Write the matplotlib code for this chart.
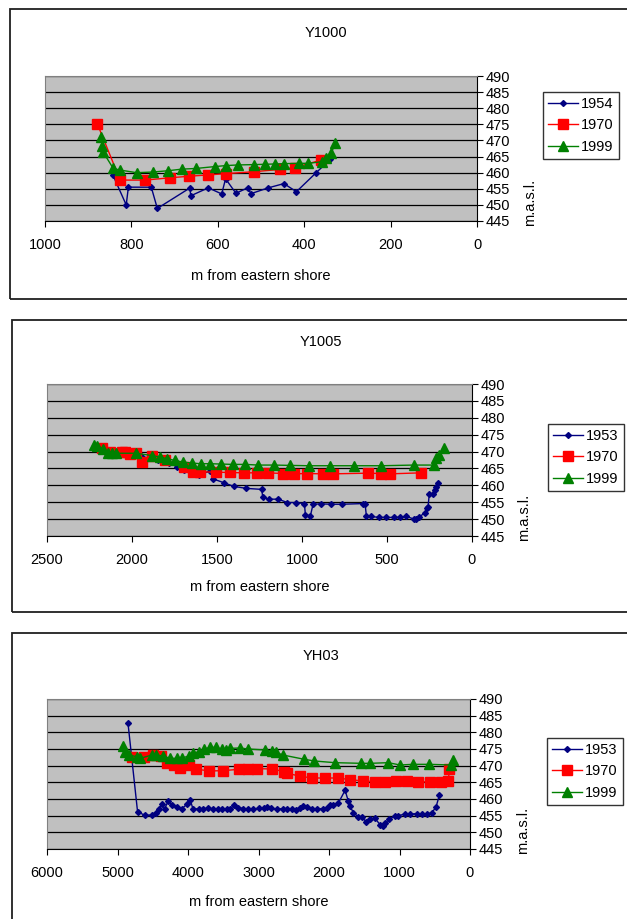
import matplotlib
matplotlib.use("Agg")
import matplotlib.pyplot as plt
from matplotlib.patches import Rectangle

plt.rcParams['font.family'] = ['Liberation Sans', 'DejaVu Sans']
FS = 10.5

# ---- Y1000 ----
y1000_1954_x = [843, 812, 807, 754, 740, 664, 663, 622, 591, 582, 558, 531, 523, 483, 447, 418, 373, 340]
y1000_1954_y = [459.3, 450.0, 455.5, 455.5, 448.9, 455.3, 452.8, 455.3, 453.4, 458.1, 453.6, 455.3, 453.5,
                455.3, 456.6, 454.1, 459.9, 464.1]
y1000_1970_x = [879, 826, 768, 711, 666, 622, 581, 516, 457, 421, 361]
y1000_1970_y = [475.2, 457.7, 457.7, 458.4, 458.9, 459.3, 459.7, 460.3, 461.0, 461.6, 463.9]
y1000_1999_x = [871, 867, 865, 842, 826, 788, 750, 715, 683, 651, 606, 581, 553, 516, 491, 468, 446,
                412, 391, 358, 349, 337, 329]
y1000_1999_y = [471.0, 468.3, 466.3, 461.3, 460.8, 460.0, 460.2, 460.6, 461.1, 461.3, 461.9, 462.2, 462.4,
                462.5, 462.6, 462.7, 462.8, 462.9, 462.9, 463.4, 464.4, 466.0, 469.1]

# ---- Y1005 ----
y1005_1953_x = [2200, 2150, 2050, 1950, 1850, 1780, 1735, 1696, 1647, 1608, 1539, 1523, 1461, 1402, 1329,
                1237, 1231, 1194, 1139, 1086, 1037, 986, 980, 951, 935, 888, 831, 763, 641, 629, 621,
                594, 549, 504, 461, 425, 386, 341, 327, 310, 278, 264, 259, 251, 231, 219, 210, 198]
y1005_1953_y = [471.5, 470.3, 469.6, 468.6, 467.6, 466.6, 465.5, 464.5, 463.7, 463.0, 464.3, 461.9, 460.8,
                459.7, 459.1, 458.8, 456.5, 455.9, 455.9, 454.9, 454.9, 454.6, 451.3, 450.9, 454.4,
                454.5, 454.4, 454.4, 454.6, 454.4, 450.9, 450.8, 450.5, 450.5, 450.5, 450.5, 450.8,
                450.0, 450.0, 450.7, 451.8, 453.3, 453.5, 457.5, 457.5, 458.6, 459.6, 460.8]
y1005_1970_x = [2176, 2127, 2059, 2043, 2010, 1974, 1939, 1882, 1808, 1696, 1641, 1598, 1506, 1423, 1343,
                1266, 1200, 1114, 1049, 972, 876, 819, 612, 537, 482, 298]
y1005_1970_y = [471.2, 469.8, 470.0, 469.8, 469.4, 469.5, 466.8, 468.6, 467.4, 465.3, 464.0, 464.0, 463.9,
                463.8, 463.7, 463.7, 463.7, 463.5, 463.4, 463.5, 463.4, 463.4, 463.6, 463.5, 463.4, 463.7]
y1005_1999_x = [2225, 2206, 2171, 2143, 2118, 2092, 1978, 1882, 1837, 1796, 1749, 1702, 1649, 1596, 1539,
                1476, 1408, 1335, 1257, 1167, 1068, 959, 835, 696, 533, 343, 221, 210, 192, 167]
y1005_1999_y = [472.0, 471.5, 470.8, 469.7, 469.5, 469.5, 469.5, 468.8, 468.4, 467.9, 467.4, 466.9, 466.6,
                466.4, 466.4, 466.3, 466.2, 466.2, 466.0, 466.0, 465.9, 465.8, 465.8, 465.8, 465.8,
                466.0, 466.0, 468.0, 469.0, 471.2]

# ---- YH03 ----
yh03_1953_x = [4852, 4715, 4606, 4517, 4451, 4408, 4370, 4332, 4280, 4229, 4158, 4087, 4016, 3969, 3931,
               3851, 3789, 3723, 3647, 3581, 3520, 3449, 3402, 3345, 3284, 3213, 3142, 3071, 3000, 2929,
               2873, 2825, 2740, 2655, 2599, 2528, 2471, 2410, 2372, 2315, 2244, 2174, 2089, 2032, 1985,
               1937, 1867, 1772, 1725, 1701, 1654, 1583, 1536, 1474, 1418, 1347, 1276, 1238, 1200, 1144,
               1063, 1016, 922, 851, 756, 685, 615, 544, 482, 435]
yh03_1953_y = [482.9, 456.1, 455.1, 455.2, 455.8, 456.9, 458.4, 457.1, 459.4, 458.1, 457.7, 457.1, 458.4,
               459.8, 457.1, 457.0, 456.9, 457.3, 457.0, 457.0, 457.0, 457.1, 457.1, 458.1, 457.4, 457.1,
               457.1, 457.0, 457.2, 457.2, 457.6, 457.2, 457.0, 457.1, 457.1, 457.0, 456.8, 457.3, 457.8,
               457.6, 457.1, 457.1, 457.1, 457.2, 458.1, 458.1, 458.8, 462.6, 459.3, 457.8, 455.9, 454.6,
               454.6, 453.2, 454.0, 454.2, 452.3, 451.9, 452.9, 453.9, 455.0, 455.0, 455.5, 455.5, 455.6,
               455.5, 455.5, 455.8, 457.6, 461.1]
yh03_1970_x = [4795, 4630, 4498, 4384, 4299, 4205, 4120, 3992, 3888, 3700, 3510, 3279, 3142, 3019, 2802,
               2637, 2599, 2410, 2235, 2056, 1871, 1701, 1512, 1342, 1205, 1054, 898, 742, 567, 416, 308, 293]
yh03_1970_y = [472.7, 472.7, 473.2, 473.0, 470.7, 470.2, 469.4, 470.2, 469.0, 468.4, 468.5, 468.9, 468.9,
               469.1, 469.0, 468.2, 467.8, 466.8, 466.3, 466.3, 466.3, 465.8, 465.4, 465.2, 465.1, 465.4,
               465.4, 465.1, 465.2, 465.1, 465.3, 468.9]
yh03_1999_x = [4928, 4899, 4843, 4725, 4677, 4512, 4451, 4356, 4252, 4158, 4087, 3983, 3931, 3846, 3770,
               3685, 3605, 3520, 3463, 3402, 3260, 3147, 2906, 2811, 2754, 2655, 2348, 2206, 1918, 1540,
               1418, 1158, 993, 813, 577, 270, 237]
yh03_1999_y = [475.9, 474.2, 473.2, 472.7, 472.2, 473.2, 473.2, 472.9, 472.2, 472.2, 472.2, 473.0, 473.7,
               474.2, 474.9, 475.5, 475.5, 474.9, 474.7, 475.2, 475.3, 475.0, 474.7, 474.4, 474.0, 473.2,
               471.9, 471.4, 470.9, 470.7, 470.7, 470.9, 470.2, 470.4, 470.4, 470.2, 471.7]

W, H = 627, 919
fig = plt.figure(figsize=(W / 100, H / 100), dpi=100)


def fx(px):
    return px / W


def fy(py):
    return 1 - py / H


# outer frames (chart objects)
for (x0, y0, x1, y1) in [(9.5, 9.5, 640, 298.5), (11.5, 319.5, 640, 611.5), (11.5, 633.5, 640, 940)]:
    fig.patches.append(Rectangle((fx(x0), fy(y1)), fx(x1 - x0), (y1 - y0) / H,
                                 transform=fig.transFigure, fill=False, ec='#202020', lw=1.3))

panels = [
    dict(title='Y1000', box=(45, 76, 477, 221), xmax=1000, xstep=200, title_xy=(326, 33),
         xlab_y=276, leg=(543, 92), yl_x=530,
         series=[('1954', y1000_1954_x, y1000_1954_y), ('1970', y1000_1970_x, y1000_1970_y),
                 ('1999', y1000_1999_x, y1000_1999_y)]),
    dict(title='Y1005', box=(47, 384, 472, 536), xmax=2500, xstep=500, title_xy=(321, 342),
         xlab_y=587, leg=(548, 424), yl_x=524,
         series=[('1953', y1005_1953_x, y1005_1953_y), ('1970', y1005_1970_x, y1005_1970_y),
                 ('1999', y1005_1999_x, y1005_1999_y)]),
    dict(title='YH03', box=(47, 699, 470, 849), xmax=6000, xstep=1000, title_xy=(321, 656),
         xlab_y=902, leg=(547, 738), yl_x=523,
         series=[('1953', yh03_1953_x, yh03_1953_y), ('1970', yh03_1970_x, yh03_1970_y),
                 ('1999', yh03_1999_x, yh03_1999_y)]),
]

styles = [dict(color='#000080', marker='D', ms=3, lw=1),
          dict(color='#FF0000', marker='s', ms=6.5, lw=1),
          dict(color='#008000', marker='^', ms=7, lw=1)]

for p in panels:
    l, t, r, b = p['box']
    ax = fig.add_axes([fx(l), fy(b), fx(r - l), (b - t) / H])
    ax.set_facecolor('#C0C0C0')
    for (lab, xs, ys), st in zip(p['series'], styles):
        ax.plot(xs, ys, color=st['color'], marker=st['marker'], markersize=st['ms'], lw=st['lw'],
                markeredgecolor=st['color'], label=lab)
    ax.set_xlim(p['xmax'], 0)
    ax.set_ylim(445, 490)
    ax.set_xticks(range(0, p['xmax'] + 1, p['xstep']))
    ax.set_yticks(range(445, 491, 5))
    ax.yaxis.tick_right()
    ax.grid(axis='y', color='black', lw=0.9)
    ax.set_axisbelow(True)
    for s in ['top', 'left']:
        ax.spines[s].set_color('#808080')
    ax.spines['right'].set_color('black')
    ax.spines['bottom'].set_color('black')
    ax.tick_params(axis='y', direction='out', length=4, pad=2, labelsize=FS)
    ax.tick_params(axis='x', direction='out', length=4, pad=8, labelsize=FS)
    ax.tick_params(axis='y', left=False)
    fig.text(fx(p['title_xy'][0]), fy(p['title_xy'][1]), p['title'], ha='center', va='center', fontsize=FS)
    fig.text(fx((l + r) / 2), fy(p['xlab_y']), 'm from eastern shore', ha='center', va='center', fontsize=FS)
    fig.text(fx(p['yl_x']), fy(b - 0.125 * (b - t)), 'm.a.s.l.', rotation=90, ha='center', va='center',
             fontsize=FS)
    leg = ax.legend(loc='upper left', bbox_to_anchor=(fx(p['leg'][0]), fy(p['leg'][1])),
                    bbox_transform=fig.transFigure, frameon=True, fancybox=False, fontsize=FS,
                    handlelength=2.05, handletextpad=0.2, labelspacing=0.5, borderpad=0.35,
                    borderaxespad=0)
    leg.get_frame().set_edgecolor('black')
    leg.get_frame().set_linewidth(1)

fig.savefig('out.png', dpi=100)
